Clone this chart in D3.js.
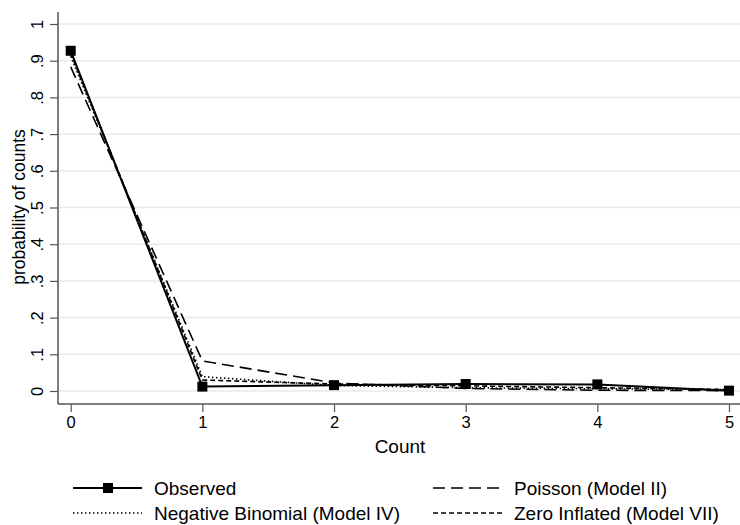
<!DOCTYPE html>
<html>
<head>
<meta charset="utf-8">
<script src="https://cdn.jsdelivr.net/npm/d3@7"></script>
<style>
  body { margin: 0; background: #fff; }
  text { font-family: "Liberation Sans", Arial, sans-serif; fill: #000; }
</style>
</head>
<body>
<svg width="740" height="525"></svg>
<script>
var counts = [0, 1, 2, 3, 4, 5];
var observed = [0.927, 0.012, 0.016, 0.019, 0.018, 0.001];
var poisson = [0.883, 0.082, 0.022, 0.007, 0.002, 0.001];
var negbin = [0.912, 0.039, 0.015, 0.009, 0.006, 0.004];
var zeroinf = [0.920, 0.030, 0.019, 0.014, 0.009, 0.004];
var yTicks = [0, 0.1, 0.2, 0.3, 0.4, 0.5, 0.6, 0.7, 0.8, 0.9, 1];
var yTickLabels = ["0", ".1", ".2", ".3", ".4", ".5", ".6", ".7", ".8", ".9", "1"];

var series = [
  { name: "Observed", values: observed, dash: null, width: 2, marker: true },
  { name: "Poisson (Model II)", values: poisson, dash: "12,6", width: 1.6, marker: false },
  { name: "Negative Binomial (Model IV)", values: negbin, dash: "1.5,2.5", width: 1.6, marker: false },
  { name: "Zero Inflated (Model VII)", values: zeroinf, dash: "5,3", width: 1.6, marker: false }
];

var svg = d3.select("svg"),
  width = +svg.attr("width"),
  height = +svg.attr("height");

var x = d3.scaleLinear().domain([0, 5]).range([70.7, 729]);
var y = d3.scaleLinear().domain([0, 1]).range([391, 24]);

var axisX = 404, axisY = 58;

// gridlines
svg.append("g")
  .selectAll("line")
  .data(yTicks)
  .enter().append("line")
  .attr("x1", axisY + 1).attr("x2", 740)
  .attr("y1", function (d) { return y(d); })
  .attr("y2", function (d) { return y(d); })
  .attr("stroke", "#eaeaea")
  .attr("stroke-width", 1.5);

// y axis
var yAxis = d3.axisLeft(y)
  .tickValues(yTicks)
  .tickSize(8)
  .tickFormat(function (d, i) { return yTickLabels[i]; });

var gy = svg.append("g")
  .attr("transform", "translate(" + axisY + ",0)")
  .call(yAxis);
gy.select(".domain").attr("d", "M0,12V" + axisX).attr("stroke", "#555").attr("stroke-width", 1.5);
gy.selectAll(".tick line").attr("stroke", "#555").attr("stroke-width", 1.2);
gy.selectAll(".tick text")
  .attr("font-size", 16.5)
  .attr("font-family", "Liberation Sans, Arial, sans-serif")
  .attr("transform", "rotate(-90)")
  .attr("x", 0).attr("y", -21)
  .attr("dy", "0.35em")
  .attr("text-anchor", "middle")
  .attr("fill", "#000");

// x axis
var xAxis = d3.axisBottom(x)
  .tickValues(counts)
  .tickSize(8)
  .tickFormat(d3.format("d"));

var gx = svg.append("g")
  .attr("transform", "translate(0," + axisX + ")")
  .call(xAxis);
gx.select(".domain").attr("d", "M" + axisY + ",0H740").attr("stroke", "#555").attr("stroke-width", 1.5);
gx.selectAll(".tick line").attr("stroke", "#555").attr("stroke-width", 1.2);
gx.selectAll(".tick text")
  .attr("font-size", 16.5)
  .attr("font-family", "Liberation Sans, Arial, sans-serif")
  .attr("y", 12)
  .attr("fill", "#000");

// axis titles
svg.append("text")
  .attr("x", 400).attr("y", 453)
  .attr("text-anchor", "middle")
  .attr("font-size", 19)
  .text("Count");

svg.append("text")
  .attr("transform", "translate(25," + 207 + ") rotate(-90)")
  .attr("text-anchor", "middle")
  .attr("font-size", 17.5)
  .text("probability of counts");

// lines
var line = d3.line()
  .x(function (d, i) { return x(counts[i]); })
  .y(function (d) { return y(d); });

var drawOrder = [1, 2, 3, 0];
drawOrder.forEach(function (k) {
  var s = series[k];
  svg.append("path")
    .datum(s.values)
    .attr("d", line)
    .attr("fill", "none")
    .attr("stroke", "#000")
    .attr("stroke-width", s.width)
    .attr("stroke-dasharray", s.dash);
});

svg.append("g")
  .selectAll("rect")
  .data(observed)
  .enter().append("rect")
  .attr("x", function (d, i) { return x(counts[i]) - 5; })
  .attr("y", function (d) { return y(d) - 5; })
  .attr("width", 10).attr("height", 10)
  .attr("fill", "#000");

// legend
var legendPos = [
  { lx: 73, ty: 488 },
  { lx: 433, ty: 488 },
  { lx: 73, ty: 513 },
  { lx: 433, ty: 513 }
];

var leg = svg.append("g")
  .selectAll("g")
  .data(series)
  .enter().append("g")
  .attr("transform", function (d, i) { return "translate(" + legendPos[i].lx + "," + legendPos[i].ty + ")"; });

leg.append("line")
  .attr("x1", 0).attr("x2", 69)
  .attr("y1", 0).attr("y2", 0)
  .attr("stroke", "#000")
  .attr("stroke-width", function (d) { return d.width; })
  .attr("stroke-dasharray", function (d) { return d.dash; });

leg.filter(function (d) { return d.marker; })
  .append("rect")
  .attr("x", 30).attr("y", -5)
  .attr("width", 10).attr("height", 10)
  .attr("fill", "#000");

leg.append("text")
  .attr("x", 81).attr("y", 0)
  .attr("dy", "0.35em")
  .attr("font-size", 19)
  .text(function (d) { return d.name; });
</script>
</body>
</html>
